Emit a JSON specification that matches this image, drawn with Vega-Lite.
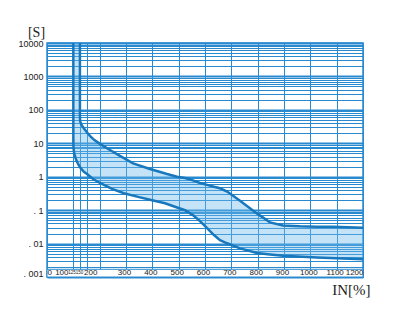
{
  "$schema": "https://vega.github.io/schema/vega-lite/v6.json",
  "width": 316,
  "height": 234,
  "autosize": "none",
  "padding": {"left": 47, "top": 43, "right": 38, "bottom": 41},
  "background": "white",
  "config": {"view": {"stroke": "#2a8ad0", "strokeWidth": 1.5}},
  "datasets": {
    "band": [
      {"x": 100, "lo": 10, "hi": 10000},
      {"x": 100.5, "lo": 8, "hi": 10000},
      {"x": 102, "lo": 5.8, "hi": 10000},
      {"x": 105, "lo": 4.5, "hi": 10000},
      {"x": 110, "lo": 3.3, "hi": 10000},
      {"x": 118, "lo": 2.4, "hi": 10000},
      {"x": 125, "lo": 2.0, "hi": 10000},
      {"x": 125, "lo": 2.0, "hi": 60},
      {"x": 126, "lo": 1.95, "hi": 45},
      {"x": 130, "lo": 1.85, "hi": 37},
      {"x": 137, "lo": 1.6, "hi": 30},
      {"x": 150, "lo": 1.25, "hi": 22},
      {"x": 163, "lo": 1.05, "hi": 16.7},
      {"x": 180, "lo": 0.82, "hi": 12.5},
      {"x": 201, "lo": 0.65, "hi": 9.6},
      {"x": 239, "lo": 0.45, "hi": 6.3},
      {"x": 277, "lo": 0.35, "hi": 4.2},
      {"x": 327, "lo": 0.27, "hi": 2.5},
      {"x": 391, "lo": 0.2, "hi": 1.7},
      {"x": 456, "lo": 0.15, "hi": 1.2},
      {"x": 494, "lo": 0.12, "hi": 1.0},
      {"x": 524, "lo": 0.1, "hi": 0.91},
      {"x": 554, "lo": 0.071, "hi": 0.78},
      {"x": 581, "lo": 0.047, "hi": 0.65},
      {"x": 608, "lo": 0.029, "hi": 0.57},
      {"x": 634, "lo": 0.018, "hi": 0.5},
      {"x": 657, "lo": 0.0126, "hi": 0.45},
      {"x": 684, "lo": 0.0102, "hi": 0.36},
      {"x": 733, "lo": 0.0072, "hi": 0.19},
      {"x": 797, "lo": 0.0052, "hi": 0.08},
      {"x": 847, "lo": 0.0047, "hi": 0.043},
      {"x": 896, "lo": 0.0043, "hi": 0.035},
      {"x": 961, "lo": 0.004, "hi": 0.033},
      {"x": 1025, "lo": 0.0038, "hi": 0.032},
      {"x": 1086, "lo": 0.0036, "hi": 0.0316},
      {"x": 1200, "lo": 0.0034, "hi": 0.0295}
    ],
    "lower": [
      {"i": 0, "x": 100, "y": 10000},
      {"i": 1, "x": 100, "y": 12},
      {"i": 2, "x": 100.5, "y": 8},
      {"i": 3, "x": 102, "y": 5.8},
      {"i": 4, "x": 105, "y": 4.5},
      {"i": 5, "x": 110, "y": 3.3},
      {"i": 6, "x": 118, "y": 2.4},
      {"i": 7, "x": 128, "y": 1.8},
      {"i": 8, "x": 140, "y": 1.4},
      {"i": 9, "x": 152, "y": 1.2},
      {"i": 10, "x": 175, "y": 0.85},
      {"i": 11, "x": 201, "y": 0.65},
      {"i": 12, "x": 247, "y": 0.43},
      {"i": 13, "x": 292, "y": 0.32},
      {"i": 14, "x": 346, "y": 0.25},
      {"i": 15, "x": 395, "y": 0.2},
      {"i": 16, "x": 448, "y": 0.16},
      {"i": 17, "x": 494, "y": 0.12},
      {"i": 18, "x": 524, "y": 0.1},
      {"i": 19, "x": 554, "y": 0.071},
      {"i": 20, "x": 581, "y": 0.047},
      {"i": 21, "x": 608, "y": 0.029},
      {"i": 22, "x": 634, "y": 0.018},
      {"i": 23, "x": 657, "y": 0.0126},
      {"i": 24, "x": 684, "y": 0.0102},
      {"i": 25, "x": 733, "y": 0.0072},
      {"i": 26, "x": 797, "y": 0.0052},
      {"i": 27, "x": 847, "y": 0.0047},
      {"i": 28, "x": 896, "y": 0.0043},
      {"i": 29, "x": 1025, "y": 0.0038},
      {"i": 30, "x": 1200, "y": 0.0034}
    ],
    "upper": [
      {"i": 0, "x": 125, "y": 10000},
      {"i": 1, "x": 125, "y": 60},
      {"i": 2, "x": 126, "y": 45},
      {"i": 3, "x": 130, "y": 37},
      {"i": 4, "x": 137, "y": 30},
      {"i": 5, "x": 150, "y": 22},
      {"i": 6, "x": 163, "y": 16.7},
      {"i": 7, "x": 180, "y": 12.5},
      {"i": 8, "x": 201, "y": 9.6},
      {"i": 9, "x": 239, "y": 6.3},
      {"i": 10, "x": 277, "y": 4.2},
      {"i": 11, "x": 327, "y": 2.5},
      {"i": 12, "x": 391, "y": 1.7},
      {"i": 13, "x": 456, "y": 1.2},
      {"i": 14, "x": 494, "y": 1.0},
      {"i": 15, "x": 524, "y": 0.91},
      {"i": 16, "x": 554, "y": 0.78},
      {"i": 17, "x": 581, "y": 0.65},
      {"i": 18, "x": 608, "y": 0.57},
      {"i": 19, "x": 634, "y": 0.5},
      {"i": 20, "x": 657, "y": 0.45},
      {"i": 21, "x": 684, "y": 0.36},
      {"i": 22, "x": 733, "y": 0.19},
      {"i": 23, "x": 797, "y": 0.08},
      {"i": 24, "x": 847, "y": 0.043},
      {"i": 25, "x": 896, "y": 0.035},
      {"i": 26, "x": 961, "y": 0.033},
      {"i": 27, "x": 1025, "y": 0.032},
      {"i": 28, "x": 1086, "y": 0.0316},
      {"i": 29, "x": 1200, "y": 0.0295}
    ],
    "strip": [
      {"x0": 0, "x1": 1200, "y0": 0.001, "y1": 0.0017}
    ]
  },
  "layer": [
    {
      "data": {"name": "band"},
      "mark": {"type": "area", "color": "#6cb8e8", "opacity": 0.4},
      "encoding": {
        "x": {
          "field": "x", "type": "quantitative",
          "scale": {"domain": [0, 1200], "nice": false, "zero": false},
          "axis": {
            "orient": "bottom",
            "values": [0, 100, 125, 150, 200, 300, 400, 500, 600, 700, 800, 900, 1000, 1100, 1200],
            "grid": true, "gridColor": "#2a8ad0", "gridWidth": 1,
            "labels": false, "ticks": false, "domain": false, "title": null, "zindex": 0
          }
        },
        "y": {
          "field": "lo", "type": "quantitative", "title": "[S]",
          "scale": {"type": "log", "domain": [0.001, 10000], "nice": false},
          "axis": {
            "values": [0.001, 0.002, 0.003, 0.004, 0.005, 0.006, 0.007, 0.008, 0.009,
                       0.01, 0.02, 0.03, 0.04, 0.05, 0.06, 0.07, 0.08, 0.09,
                       0.1, 0.2, 0.3, 0.4, 0.5, 0.6, 0.7, 0.8, 0.9,
                       1, 2, 3, 4, 5, 6, 7, 8, 9,
                       10, 20, 30, 40, 50, 60, 70, 80, 90,
                       100, 200, 300, 400, 500, 600, 700, 800, 900,
                       1000, 2000, 3000, 4000, 5000, 6000, 7000, 8000, 9000, 10000],
            "grid": true, "gridColor": "#2a8ad0",
            "gridWidth": {"condition": {"test": "abs(log(datum.value)/LN10 - round(log(datum.value)/LN10)) < 0.01", "value": 2}, "value": 1},
            "domain": false, "ticks": false, "tickSize": 0,
            "labelPadding": 4, "labelOverlap": false,
            "labelExpr": "datum.value == 10000 ? '10000' : datum.value == 1000 ? '1000' : datum.value == 100 ? '100' : datum.value == 10 ? '10' : datum.value == 1 ? '1' : datum.value == 0.1 ? '. 1' : datum.value == 0.01 ? '. 01' : datum.value == 0.001 ? '. 001' : ''",
            "labelFont": "Liberation Sans", "labelFontSize": 9, "labelColor": "#222",
            "labelOffset": {"condition": {"test": "datum.value < 0.0015", "value": -4}, "value": 0},
            "titleAngle": 0, "titleFont": "Liberation Serif", "titleFontSize": 14,
            "titleFontWeight": "normal", "titleColor": "#222",
            "titleX": -11, "titleY": -11, "titleAlign": "center", "titleBaseline": "middle"
          }
        },
        "y2": {"field": "hi"}
      }
    },
    {
      "data": {"name": "lower"},
      "mark": {"type": "line", "color": "#1878bd", "strokeWidth": 2.5},
      "encoding": {
        "x": {"field": "x", "type": "quantitative", "axis": null},
        "y": {"field": "y", "type": "quantitative", "title": "[S]"},
        "order": {"field": "i", "type": "quantitative"}
      }
    },
    {
      "data": {"name": "upper"},
      "mark": {"type": "line", "color": "#1878bd", "strokeWidth": 2.5},
      "encoding": {
        "x": {"field": "x", "type": "quantitative", "axis": null},
        "y": {"field": "y", "type": "quantitative", "title": "[S]"},
        "order": {"field": "i", "type": "quantitative"}
      }
    },
    {
      "data": {"name": "strip"},
      "mark": {"type": "rect", "fill": "white", "stroke": "#2a8ad0", "strokeWidth": 1},
      "encoding": {
        "x": {
          "field": "x0", "type": "quantitative",
          "axis": {
            "orient": "bottom",
            "values": [0, 100, 125, 150, 200, 300, 400, 500, 600, 700, 800, 900, 1000, 1100, 1200],
            "grid": false, "domain": false, "ticks": false, "tickSize": 0,
            "labelPadding": -5, "labelBaseline": "middle", "labelOverlap": false,
            "labelExpr": "'' + datum.value",
            "labelFont": "Liberation Sans", "labelColor": "#222",
            "labelFontSize": {"condition": {"test": "datum.value == 125 || datum.value == 150", "value": 4.5}, "value": 8},
            "labelOffset": {"condition": [
              {"test": "datum.value == 0 || datum.value == 1200", "value": 0},
              {"test": "datum.value == 100", "value": -12},
              {"test": "datum.value == 125", "value": -8.3},
              {"test": "datum.value == 150", "value": -7.5},
              {"test": "datum.value == 200", "value": -9.5}
            ], "value": -2},
            "title": "IN[%]", "titleFont": "Liberation Serif", "titleFontSize": 15,
            "titleFontWeight": "normal", "titleColor": "#222",
            "titleX": 323, "titleY": 12, "titleAlign": "right", "titleBaseline": "middle",
            "zindex": 1
          }
        },
        "x2": {"field": "x1"},
        "y": {"field": "y0", "type": "quantitative", "title": "[S]"},
        "y2": {"field": "y1"}
      }
    }
  ],
  "resolve": {"axis": {"x": "independent"}}
}
